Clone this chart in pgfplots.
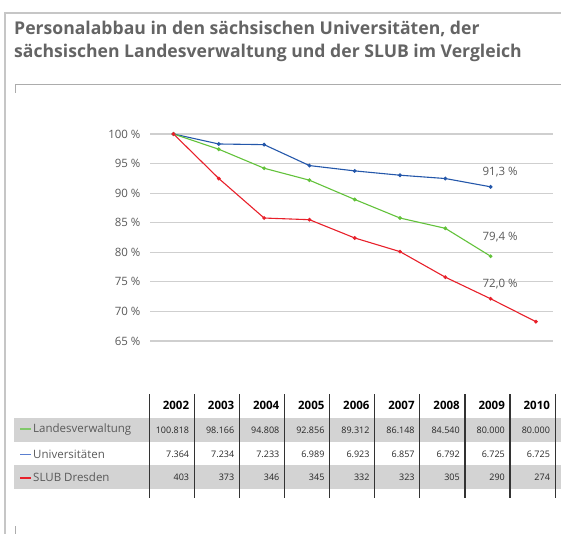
\documentclass[border=0pt]{standalone}
\usepackage{pgfplots}
\pgfplotsset{compat=1.18}
\usepackage{fontspec}
\setmainfont{Open Sans}
\definecolor{titlegray}{HTML}{646464}
\definecolor{labgray}{HTML}{5A5A5A}
\definecolor{gridgray}{HTML}{CFCFCF}
\definecolor{bandgray}{HTML}{D3D3D3}
\definecolor{cblue}{HTML}{2457AA}
\definecolor{cgreen}{HTML}{62C23A}
\definecolor{cred}{HTML}{E8202A}
\definecolor{legblue}{HTML}{5A7FD0}
\definecolor{leggreen}{HTML}{80C86A}

\pgfplotstableread{
x uni land slub
0 100.00 100.00 100.00
1 98.31 97.42 92.47
2 98.20 94.21 85.79
3 94.66 92.19 85.51
4 93.76 88.93 82.42
5 93.03 85.79 80.11
6 92.47 84.05 75.79
7 91.07 79.33 72.14
8 nan nan 68.26
}\datatable

\begin{document}
\begin{tikzpicture}[x=1pt,y=1pt]
\useasboundingbox (0,0) rectangle (561,534);
% frame
\draw[gray!45, line width=1.2pt] (5,0) -- (5,521) -- (561,521);
\draw[gray!65, line width=1pt] (15,441) -- (15,449.5) -- (561,449.5);
\draw[gray!65, line width=1pt] (15,0) -- (15,8);
% title
\node[anchor=base west, inner sep=0, text=titlegray, font=\fontsize{17.6}{20}\selectfont\bfseries] at (14,499) {Personalabbau in den sächsischen Universitäten, der};
\node[anchor=base west, inner sep=0, text=titlegray, font=\fontsize{17.6}{20}\selectfont\bfseries] at (14,476) {sächsischen Landesverwaltung und der SLUB im Vergleich};

\begin{axis}[
  at={(150pt,193pt)}, anchor=south west,
  scale only axis, width=403pt, height=207pt,
  xmin=-0.519, xmax=8.377, ymin=65, ymax=100,
  clip=false,
  axis line style={draw=none},
  xtick=\empty,
  ytick={65,70,...,100},
  ymajorgrids,
  major grid style={gridgray, line width=1.2pt},
  major tick length=0pt,
  yticklabel={\pgfmathprintnumber{\tick}\ \%},
  /pgf/number format/assume math mode=true,
  yticklabel style={font=\fontsize{11.5}{13}\selectfont, text=labgray, xshift=-6pt},
  every axis plot/.append style={line width=1.1pt, mark=*, mark size=1.3pt},
]
\addplot[cblue, mark options={fill=cblue}] table[x=x, y=uni] {\datatable};
\addplot[cgreen, mark options={fill=cgreen}] table[x=x, y=land] {\datatable};
\addplot[cred, mark options={fill=cred}] table[x=x, y=slub] {\datatable};
\node[text=labgray, font=\fontsize{11.5}{13}\selectfont] at (axis cs:7.21,93.6) {91,3 \%};
\node[text=labgray, font=\fontsize{11.5}{13}\selectfont] at (axis cs:7.21,82.54) {79,4 \%};
\node[text=labgray, font=\fontsize{11.5}{13}\selectfont] at (axis cs:7.21,74.55) {72,0 \%};
\end{axis}

% table
\fill[bandgray] (14,92) rectangle (561,116);
\fill[bandgray] (14,45) rectangle (561,69);
\foreach \k in {0,...,9} {
  \draw[black!80, line width=1.2pt] ({149.2+45.1*\k},36) -- ({149.2+45.1*\k},140);
}
\foreach \yr [count=\k] in {2002,2003,2004,2005,2006,2007,2008,2009,2010} {
  \node[anchor=base east, inner sep=0, font=\fontsize{11.5}{13}\selectfont\bfseries] at ({149.2+45.1*\k-5},124) {\yr};
}
\foreach \v [count=\k] in {100.818,98.166,94.808,92.856,89.312,86.148,84.540,80.000,80.000} {
  \node[anchor=east, inner sep=0, font=\fontsize{9}{11}\selectfont, text=black!85] at ({149.2+45.1*\k-5},104) {\v};
}
\foreach \v [count=\k] in {7.364,7.234,7.233,6.989,6.923,6.857,6.792,6.725,6.725} {
  \node[anchor=east, inner sep=0, font=\fontsize{9}{11}\selectfont, text=black!85] at ({149.2+45.1*\k-5},80) {\v};
}
\foreach \v [count=\k] in {403,373,346,345,332,323,305,290,274} {
  \node[anchor=east, inner sep=0, font=\fontsize{9}{11}\selectfont, text=black!85] at ({149.2+45.1*\k-5},56.5) {\v};
}
\node[anchor=west, inner sep=0, font=\fontsize{11.5}{13}\selectfont] at (20,104) {\textcolor{leggreen}{\rule[0.28em]{11pt}{1.4pt}}\hspace{2pt}\textcolor{labgray}{Landesverwaltung}};
\node[anchor=west, inner sep=0, font=\fontsize{11.5}{13}\selectfont] at (20,80) {\textcolor{legblue}{\rule[0.28em]{11pt}{1.4pt}}\hspace{2pt}\textcolor{labgray}{Universitäten}};
\node[anchor=west, inner sep=0, font=\fontsize{11.5}{13}\selectfont] at (20,56.5) {\textcolor{cred}{\rule[0.28em]{11pt}{1.4pt}}\hspace{2pt}\textcolor{labgray}{SLUB Dresden}};
\end{tikzpicture}
\end{document}
